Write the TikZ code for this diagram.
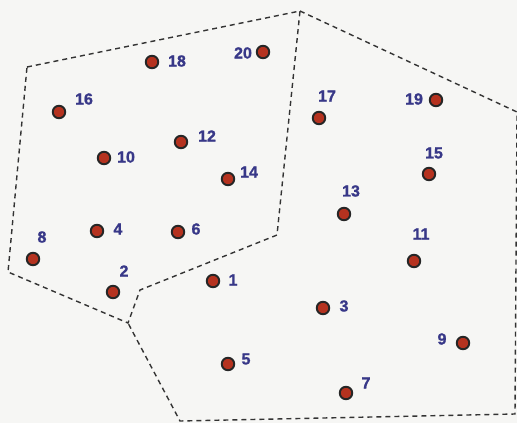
\documentclass[tikz,border=0pt]{standalone}
\usepackage{fontspec}
\setsansfont{Liberation Sans}[BoldFeatures={FakeBold=1.2}]
\usepackage{xcolor}
\usepackage{tikz}
\definecolor{vpaper}{HTML}{F6F6F4}
\definecolor{vred}{HTML}{B5321F}
\definecolor{vblue}{HTML}{383888}
\definecolor{vline}{HTML}{333333}
\tikzset{
  vsite/.style={circle, draw=black!85, fill=vred, line width=1.9pt,
                minimum size=12.5pt, inner sep=0pt},
  vnum/.style={vblue, font=\fontsize{16}{19}\selectfont\sffamily\bfseries,
               inner sep=0pt},
  vedge/.style={vline, line width=1.4pt, dash pattern=on 5pt off 4pt},
}

\begin{document}
\begin{tikzpicture}[x=1pt,y=-1pt]

  % papel
  \fill[vpaper] (0,0) rectangle (517,423);
  \useasboundingbox (0,0) rectangle (517,423);

  % vertices das celulas
  \coordinate (c1) at (27,67);
  \coordinate (c2) at (300,11);
  \coordinate (c3) at (277,235);
  \coordinate (c4) at (140,290);
  \coordinate (c5) at (128,323);
  \coordinate (c6) at (8,272);
  \coordinate (c7) at (517,112);
  \coordinate (c8) at (515,414);
  \coordinate (c9) at (180,421);

  % celula dos pares e celula dos impares
  \draw[vedge] (c1) -- (c2) -- (c3) -- (c4) -- (c5) -- (c6) -- cycle;
  \draw[vedge] (c2) -- (c7) -- (c8) -- (c9) -- (c5);

  % pontos pares
  \node[vsite] (p2)  at (113,292) {};
  \node[vsite] (p4)  at (97,231)  {};
  \node[vsite] (p6)  at (178,232) {};
  \node[vsite] (p8)  at (33,259)  {};
  \node[vsite] (p10) at (104,158) {};
  \node[vsite] (p12) at (181,142) {};
  \node[vsite] (p14) at (228,179) {};
  \node[vsite] (p16) at (59,112)  {};
  \node[vsite] (p18) at (152,62)  {};
  \node[vsite] (p20) at (263,52)  {};

  \node[vnum] (n2)  at (124,271) {2};
  \node[vnum] (n4)  at (118,229) {4};
  \node[vnum] (n6)  at (196,229) {6};
  \node[vnum] (n8)  at (42,237)  {8};
  \node[vnum] (n10) at (126,157) {10};
  \node[vnum] (n12) at (207,136) {12};
  \node[vnum] (n14) at (249,172) {14};
  \node[vnum] (n16) at (84,99)   {16};
  \node[vnum] (n18) at (177,61)  {18};
  \node[vnum] (n20) at (243,53)  {20};

  % pontos impares
  \node[vsite] (p1)  at (213,281) {};
  \node[vsite] (p3)  at (323,308) {};
  \node[vsite] (p5)  at (228,364) {};
  \node[vsite] (p7)  at (346,393) {};
  \node[vsite] (p9)  at (463,343) {};
  \node[vsite] (p11) at (414,261) {};
  \node[vsite] (p13) at (344,214) {};
  \node[vsite] (p15) at (429,174) {};
  \node[vsite] (p17) at (319,118) {};
  \node[vsite] (p19) at (436,100) {};

  \node[vnum] (n1)  at (233,280) {1};
  \node[vnum] (n3)  at (344,306) {3};
  \node[vnum] (n5)  at (246,359) {5};
  \node[vnum] (n7)  at (366,383) {7};
  \node[vnum] (n9)  at (442,339) {9};
  \node[vnum] (n11) at (421,234) {11};
  \node[vnum] (n13) at (351,191) {13};
  \node[vnum] (n15) at (434,153) {15};
  \node[vnum] (n17) at (327,96)  {17};
  \node[vnum] (n19) at (414,99)  {19};

\end{tikzpicture}
\end{document}
